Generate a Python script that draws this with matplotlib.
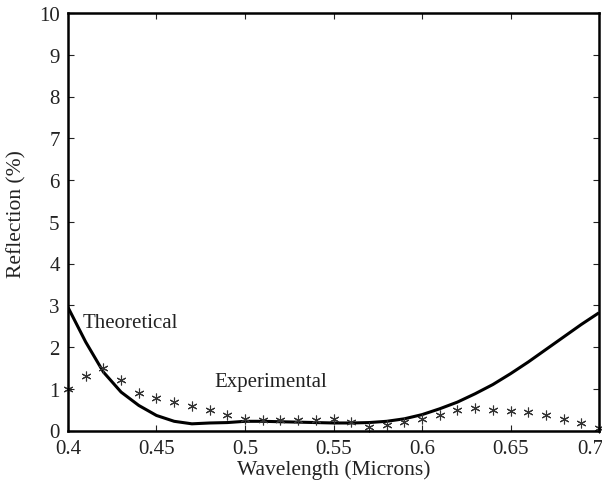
import matplotlib
matplotlib.use("Agg")
import matplotlib.pyplot as plt
import matplotlib.transforms as mtransforms
import numpy as np

plt.rcParams['font.family'] = ['Liberation Serif', 'DejaVu Serif']

wavelength = [0.40, 0.41, 0.42, 0.43, 0.44, 0.45, 0.46, 0.47, 0.48, 0.49, 0.50,
              0.51, 0.52, 0.53, 0.54, 0.55, 0.56, 0.57, 0.58, 0.59, 0.60,
              0.61, 0.62, 0.63, 0.64, 0.65, 0.66, 0.67, 0.68, 0.69, 0.70]
theoretical = [2.95, 2.12, 1.40, 0.92, 0.60, 0.36, 0.22, 0.16, 0.18, 0.19, 0.22,
               0.22, 0.21, 0.20, 0.19, 0.18, 0.18, 0.19, 0.22, 0.28, 0.38,
               0.52, 0.68, 0.88, 1.10, 1.36, 1.64, 1.94, 2.24, 2.54, 2.82]
experimental = [1.00, 1.30, 1.50, 1.22, 0.90, 0.79, 0.68, 0.58, 0.49, 0.38, 0.28,
                0.24, 0.24, 0.24, 0.24, 0.28, 0.20, 0.08, 0.14, 0.20, 0.28,
                0.38, 0.50, 0.54, 0.49, 0.46, 0.44, 0.38, 0.28, 0.19, 0.06]
xticks = [0.4, 0.45, 0.5, 0.55, 0.6, 0.65, 0.7]
xticklabels = ['0.4', '0.45', '0.5', '0.55', '0.6', '0.65', '0.7']
yticks = list(range(0, 11))

fig = plt.figure(figsize=(6.02, 4.89), dpi=100)
ax = fig.add_axes([68/602, 1-431.5/489, (599-68)/602, (431.5-14)/489])

ax.plot(wavelength, theoretical, color='black', lw=2.2, solid_capstyle='butt')
ax.plot(wavelength, experimental, ls='none', marker=(6, 2, 0), ms=7,
        mec='#333333', mew=0.8, clip_on=False)

ax.set_xlim(0.4, 0.7)
ax.set_ylim(0, 10)
ax.set_xticks(xticks)
ax.set_xticklabels(xticklabels)
ax.set_yticks(yticks)
ax.tick_params(direction='in', top=True, right=True, length=4, width=0.8,
               labelsize=15, colors='#222222', pad=6)
for s in ax.spines.values():
    s.set_linewidth(1.8)

# nudge last x tick label left so it stays inside the figure
last = ax.get_xticklabels()[-1]
last.set_transform(last.get_transform() +
                   mtransforms.ScaledTranslation(-9/100, 0, fig.dpi_scale_trans))

ax.set_xlabel('Wavelength (Microns)', fontsize=15.5, labelpad=1, color='#222222')
ax.set_ylabel('Reflection (%)', fontsize=15.5, color='#222222')
ax.yaxis.set_label_coords(-0.078, 0.52)

ax.text(0.4085, 2.58, 'Theoretical', fontsize=15, va='center', ha='left', color='#222222')
ax.text(0.4829, 1.17, 'Experimental', fontsize=15, va='center', ha='left', color='#222222')

fig.savefig('out.png', dpi=100)
